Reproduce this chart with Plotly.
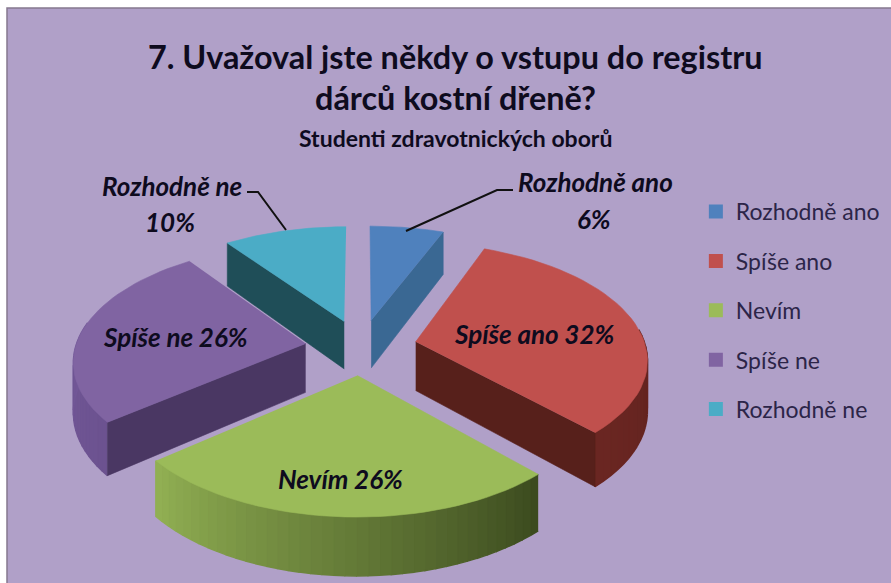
import numpy as np
import plotly.graph_objects as go

categories = ["Rozhodně ano", "Spíše ano", "Nevím", "Spíše ne", "Rozhodně ne"]
values = [6, 32, 26, 26, 10]
top_colors = ["#4f81bd", "#c0504d", "#9bbb59", "#8064a2", "#4bacc6"]
cut_colors = ["#3a6893", "#57201b", "#46562a", "#4a3763", "#1f4e58"]
rim_left = ["#3a6893", "#6b2622", "#93b254", "#7a5fa0", "#1f4e58"]
rim_right = ["#3a6893", "#55201b", "#3c4b1f", "#6c5290", "#1f4e58"]
draw_order = [0, 4, 1, 3, 2]
BG = "#b0a0c8"
TXT = "#0e0b1e"
FONT = "Lato"

CX, CY, R, E, K, P, D = 361, 347, 230, 56, 0.495, 0.135 / 230, 49


def project(X, Y, Z=0.0):
    s = 1 / (1 + P * Y)
    return CX + X * s, CY - Y * K * s + Z * s


fig = go.Figure()
fig.add_shape(type="rect", xref="x", yref="y", x0=7, y0=8, x1=895, y1=590, layer="below",
              fillcolor=BG, line=dict(color="#85788f", width=1.5))
edges = np.concatenate([[0], np.cumsum(values)]) / sum(values) * 2 * np.pi


def poly(xs, ys, color, width=0.6):
    fig.add_trace(go.Scatter(x=list(xs), y=list(ys), mode="lines", fill="toself",
                             fillcolor=color, line=dict(color=color, width=width),
                             hoverinfo="skip", showlegend=False))


def mix(a, b, t):
    ca = [int(a[i:i + 2], 16) for i in (1, 3, 5)]
    cb = [int(b[i:i + 2], 16) for i in (1, 3, 5)]
    return "#%02x%02x%02x" % tuple(int(round(u + (v - u) * t)) for u, v in zip(ca, cb))


for i in draw_order:
    a0, a1 = edges[i], edges[i + 1]
    mid = (a0 + a1) / 2
    ox, oy = E * np.sin(mid), E * np.cos(mid)
    th = np.linspace(a0, a1, 40)
    ex, ey = ox + R * np.sin(th), oy + R * np.cos(th)
    # outer rim, shaded in steps from the left end to the right end of the screen
    for j in range(len(th) - 1):
        if not (np.pi / 2 - 0.15 < th[j] < 3 * np.pi / 2 + 0.15):
            continue
        t = (a1 - th[j]) / (a1 - a0)
        xa, ya = project(ex[j:j + 2], ey[j:j + 2], 0)
        xb, yb = project(ex[j:j + 2], ey[j:j + 2], D)
        poly(np.r_[xa, xb[::-1]], np.r_[ya, yb[::-1]], mix(rim_left[i], rim_right[i], t), 1.5)
    # visible radial cut faces
    for a, show in ((a0, np.pi < a0 < 2 * np.pi), (a1, 0 < a1 < np.pi)):
        if show:
            lx = np.array([ox, ox + R * np.sin(a)])
            ly = np.array([oy, oy + R * np.cos(a)])
            xa, ya = project(lx, ly, 0)
            xb, yb = project(lx, ly, D)
            poly(np.r_[xa, xb[::-1]], np.r_[ya, yb[::-1]], cut_colors[i])
    # top surface
    xt, yt = project(np.r_[ox, ex], np.r_[oy, ey], 0)
    poly(xt, yt, top_colors[i])

for name, color in zip(categories, top_colors):
    fig.add_trace(go.Scatter(x=[None], y=[None], mode="markers", name=name, legendgroup=name,
                             marker=dict(symbol="square", size=14, color=color)))


def note(x, y, text, size, bold=True, italic=False):
    t = f"<b>{text}</b>" if bold else text
    t = f"<i>{t}</i>" if italic else t
    fig.add_annotation(x=x, y=y, text=t, showarrow=False, xanchor="center", yanchor="middle",
                       font=dict(family=FONT, size=size, color=TXT))


note(455, 56, "7. Uvažoval jste někdy o vstupu do registru", 32.4)
note(455, 97, "dárců kostní dřeně?", 32.4)
note(455, 138, "Studenti zdravotnických oborů", 23)
note(172, 186, "Rozhodně ne", 26, italic=True)
note(170, 222, "10%", 26, italic=True)
note(595, 182, "Rozhodně ano", 26, italic=True)
note(594, 219, "6%", 26, italic=True)
note(534, 334, "Spíše ano 32%", 26, italic=True)
note(175, 337, "Spíše ne 26%", 26, italic=True)
note(340, 479, "Nevím 26%", 26, italic=True)

leader = dict(type="path", line=dict(color="#111111", width=2), xref="x", yref="y", layer="above")
fig.add_shape(path="M 247 192 L 258 192 L 286 230", **leader)
fig.add_shape(path="M 513 190 L 497 190 L 406 231", **leader)

fig.update_layout(
    width=891, height=583, margin=dict(l=0, r=0, t=0, b=0),
    paper_bgcolor="white", plot_bgcolor="white",
    xaxis=dict(range=[0, 891], visible=False, fixedrange=True),
    yaxis=dict(range=[583, 0], visible=False, fixedrange=True),
    legend=dict(x=0.781, y=0.674, xanchor="left", yanchor="top", bgcolor="rgba(0,0,0,0)",
                font=dict(family=FONT, size=23, color="#2c2548"), tracegroupgap=16.5,
                itemwidth=30),
)
fig.write_html("out.html", config={"displayModeBar": False},
               post_script="document.body.style.margin='0';")
